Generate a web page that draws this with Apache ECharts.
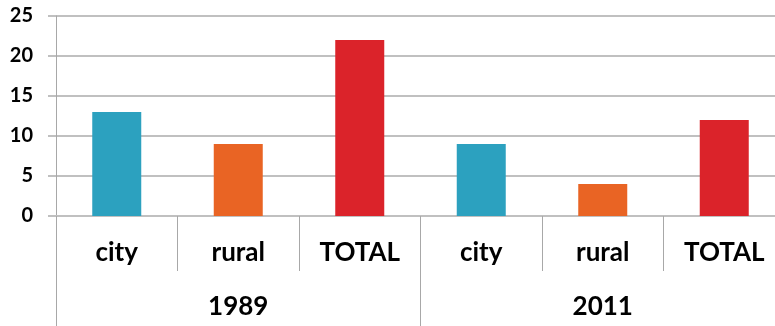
<!DOCTYPE html>
<html><head><meta charset="utf-8">
<script src="https://cdn.jsdelivr.net/npm/echarts@6/dist/echarts.min.js"></script>
<style>html,body{margin:0;padding:0;background:#fff;overflow:hidden;width:775px;height:326px}#c{width:785px;height:326px}</style>
</head><body><div id="c"></div>
<script>
const categories = ['city', 'rural', 'TOTAL', 'city', 'rural', 'TOTAL'];
const groups = ['1989', '2011'];
const values = [13, 9, 22, 9, 4, 12];
const yTicks = [0, 5, 10, 15, 20, 25];

const barColors = ['#2ca1bf', '#e96424', '#db232a', '#2ca1bf', '#e96424', '#db232a'];
const FONT = 'Lato';
const chart = echarts.init(document.getElementById('c'), null, {renderer: 'canvas'});
chart.setOption({
  animation: false,
  grid: {left: 56, top: 16, right: 0, bottom: 110, containLabel: false, outerBoundsMode: 'none'},
  xAxis: [
    {
      type: 'category', data: categories, position: 'bottom',
      axisLine: {show: true, lineStyle: {color: '#c0c0c0', width: 2}},
      axisTick: {show: true, alignWithLabel: false, length: 55, lineStyle: {color: '#a8a8a8', width: 1}},
      axisLabel: {margin: 24, color: '#000', fontFamily: FONT, fontWeight: 'bold', fontSize: 26}
    },
    {
      type: 'category', data: groups, position: 'bottom', offset: 55,
      axisLine: {show: false},
      axisTick: {show: true, alignWithLabel: false, length: 55, lineStyle: {color: '#a8a8a8', width: 1}},
      axisLabel: {margin: 23, color: '#000', fontFamily: FONT, fontWeight: 'bold', fontSize: 26}
    }
  ],
  yAxis: {
    type: 'value', min: yTicks[0], max: yTicks[yTicks.length - 1], interval: 5,
    axisLine: {show: true, lineStyle: {color: '#a8a8a8', width: 1}},
    axisTick: {show: true, length: 8, lineStyle: {color: '#c0c0c0', width: 2}},
    splitLine: {show: true, lineStyle: {color: '#c0c0c0', width: 2}},
    axisLabel: {margin: 23, color: '#000', fontFamily: FONT, fontWeight: 'bold', fontSize: 20}
  },
  series: [{
    type: 'bar', xAxisIndex: 0, barWidth: 49,
    data: values.map((v, i) => ({value: v, itemStyle: {color: barColors[i]}}))
  }]
});
</script></body></html>
